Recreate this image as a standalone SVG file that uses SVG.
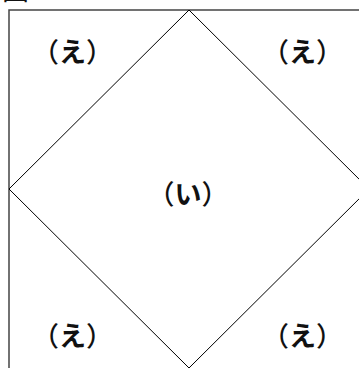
<svg xmlns="http://www.w3.org/2000/svg" width="359" height="368" viewBox="0 0 359 368">
<style>
.lbl{font-family:"Noto Sans CJK JP","Noto Sans CJK SC",sans-serif;font-size:27px;font-weight:bold;fill:#111;text-anchor:middle;dominant-baseline:central}
.p{font-weight:500}
.frame{fill:none;stroke:#444;stroke-width:1.5}
.dia{fill:none;stroke:#000;stroke-width:1}
</style>
<rect width="359" height="368" fill="#fff"/>
<text x="2" y="-0.5" style="font-family:'Noto Sans CJK JP',sans-serif;font-size:27px;fill:#111">図</text>
<g id="frame"><rect class="frame" x="9" y="10" width="360" height="360"/></g>
<g id="diamond"><polygon class="dia" points="189,10 369,189 189,368 9,189"/></g>
<g id="label-tl"><text class="lbl" x="72.5" y="50"><tspan class="p">（</tspan>え<tspan class="p">）</tspan></text></g>
<g id="label-tr"><text class="lbl" x="302.5" y="50"><tspan class="p">（</tspan>え<tspan class="p">）</tspan></text></g>
<g id="label-c"><text class="lbl" x="188" y="192"><tspan class="p">（</tspan>い<tspan class="p">）</tspan></text></g>
<g id="label-bl"><text class="lbl" x="72.5" y="334"><tspan class="p">（</tspan>え<tspan class="p">）</tspan></text></g>
<g id="label-br"><text class="lbl" x="302.5" y="334"><tspan class="p">（</tspan>え<tspan class="p">）</tspan></text></g>
</svg>
